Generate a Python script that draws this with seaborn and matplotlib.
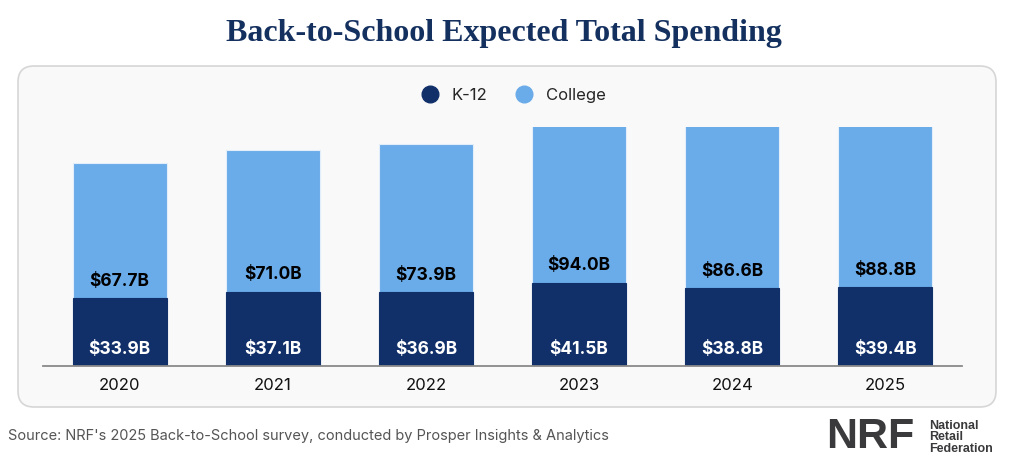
import matplotlib
matplotlib.use('Agg')
import matplotlib.pyplot as plt
import seaborn as sns
import pandas as pd
from matplotlib.patches import FancyBboxPatch
from matplotlib.lines import Line2D

years = ['2020', '2021', '2022', '2023', '2024', '2025']
k12 = [33.9, 37.1, 36.9, 41.5, 38.8, 39.4]
college = [67.7, 71.0, 73.9, 94.0, 86.6, 88.8]

navy = '#11306a'
light = '#6aabe9'

sns.set_theme(style='white')
plt.rcParams['font.family'] = ['Inter', 'DejaVu Sans']

df = pd.DataFrame({'year': years, 'k12': k12, 'college': college})
df['total'] = df['k12'] + df['college']

fig = plt.figure(figsize=(10.36, 4.66), dpi=100)
fig.patch.set_facecolor('white')

# rounded panel behind the chart
panel = FancyBboxPatch((0.18, 0.59), 9.78, 3.41, boxstyle='round,pad=0,rounding_size=0.16',
                       transform=fig.dpi_scale_trans, facecolor='#f9f9f9',
                       edgecolor='#d6d6d6', linewidth=1.2, zorder=-1)
fig.patches.append(panel)

ax = fig.add_axes([0.0415, 0.2146, 0.887, 0.5129])
ax.set_facecolor('none')
ax.set_zorder(2)

# stacked bars: total first (college on top), then K-12 over it
sns.barplot(data=df, x='year', y='total', color=light, width=0.614, saturation=1,
            edgecolor='#e2eefa', linewidth=0.8, ax=ax)
sns.barplot(data=df, x='year', y='k12', color=navy, width=0.614, saturation=1,
            edgecolor=navy, linewidth=0.8, ax=ax)
ax.set_ylim(0, 119.5)

for i in range(len(years)):
    ax.text(i, 8, f'${k12[i]:.1f}B', ha='center', va='center', color='white',
            fontsize=12.5, fontweight='bold')
    ax.text(i, k12[i] + 8.5, f'${college[i]:.1f}B', ha='center', va='center', color='black',
            fontsize=12.5, fontweight='bold')

ax.set_xlabel('')
ax.set_ylabel('')
ax.set_yticks([])
for s in ['top', 'right', 'left']:
    ax.spines[s].set_visible(False)
ax.spines['bottom'].set_color('#8a8a8a')
ax.spines['bottom'].set_linewidth(1.3)
ax.tick_params(axis='x', length=0, pad=9, labelsize=12, colors='#111111')

handles = [Line2D([], [], marker='o', linestyle='', markersize=12, color=navy),
           Line2D([], [], marker='o', linestyle='', markersize=12, color=light)]
fig.legend(handles, ['K-12', 'College'], loc='center', bbox_to_anchor=(0.492, 0.796),
           ncol=2, frameon=False, fontsize=12, handletextpad=0.3, columnspacing=1.2)

fig.text(0.486, 0.928, 'Back-to-School Expected Total Spending', ha='center', va='center',
         fontsize=23, fontweight='bold', color='#14305f', family=['Liberation Serif'])

fig.text(0.008, 0.065, "Source: NRF's 2025 Back-to-School survey, conducted by Prosper Insights & Analytics",
         ha='left', va='center', fontsize=10.5, color='#555555')

# NRF logo as text
fig.text(0.797, 0.062, 'NRF', ha='left', va='center', fontsize=31, fontweight='black',
         color='#3a3a3c', family=['Liberation Sans'])
fig.text(0.897, 0.062, 'National\nRetail\nFederation', ha='left', va='center', fontsize=9,
         fontweight='bold', color='#3a3a3c', linespacing=0.95, family=['Liberation Sans'])

fig.savefig('out.png', dpi=100)
